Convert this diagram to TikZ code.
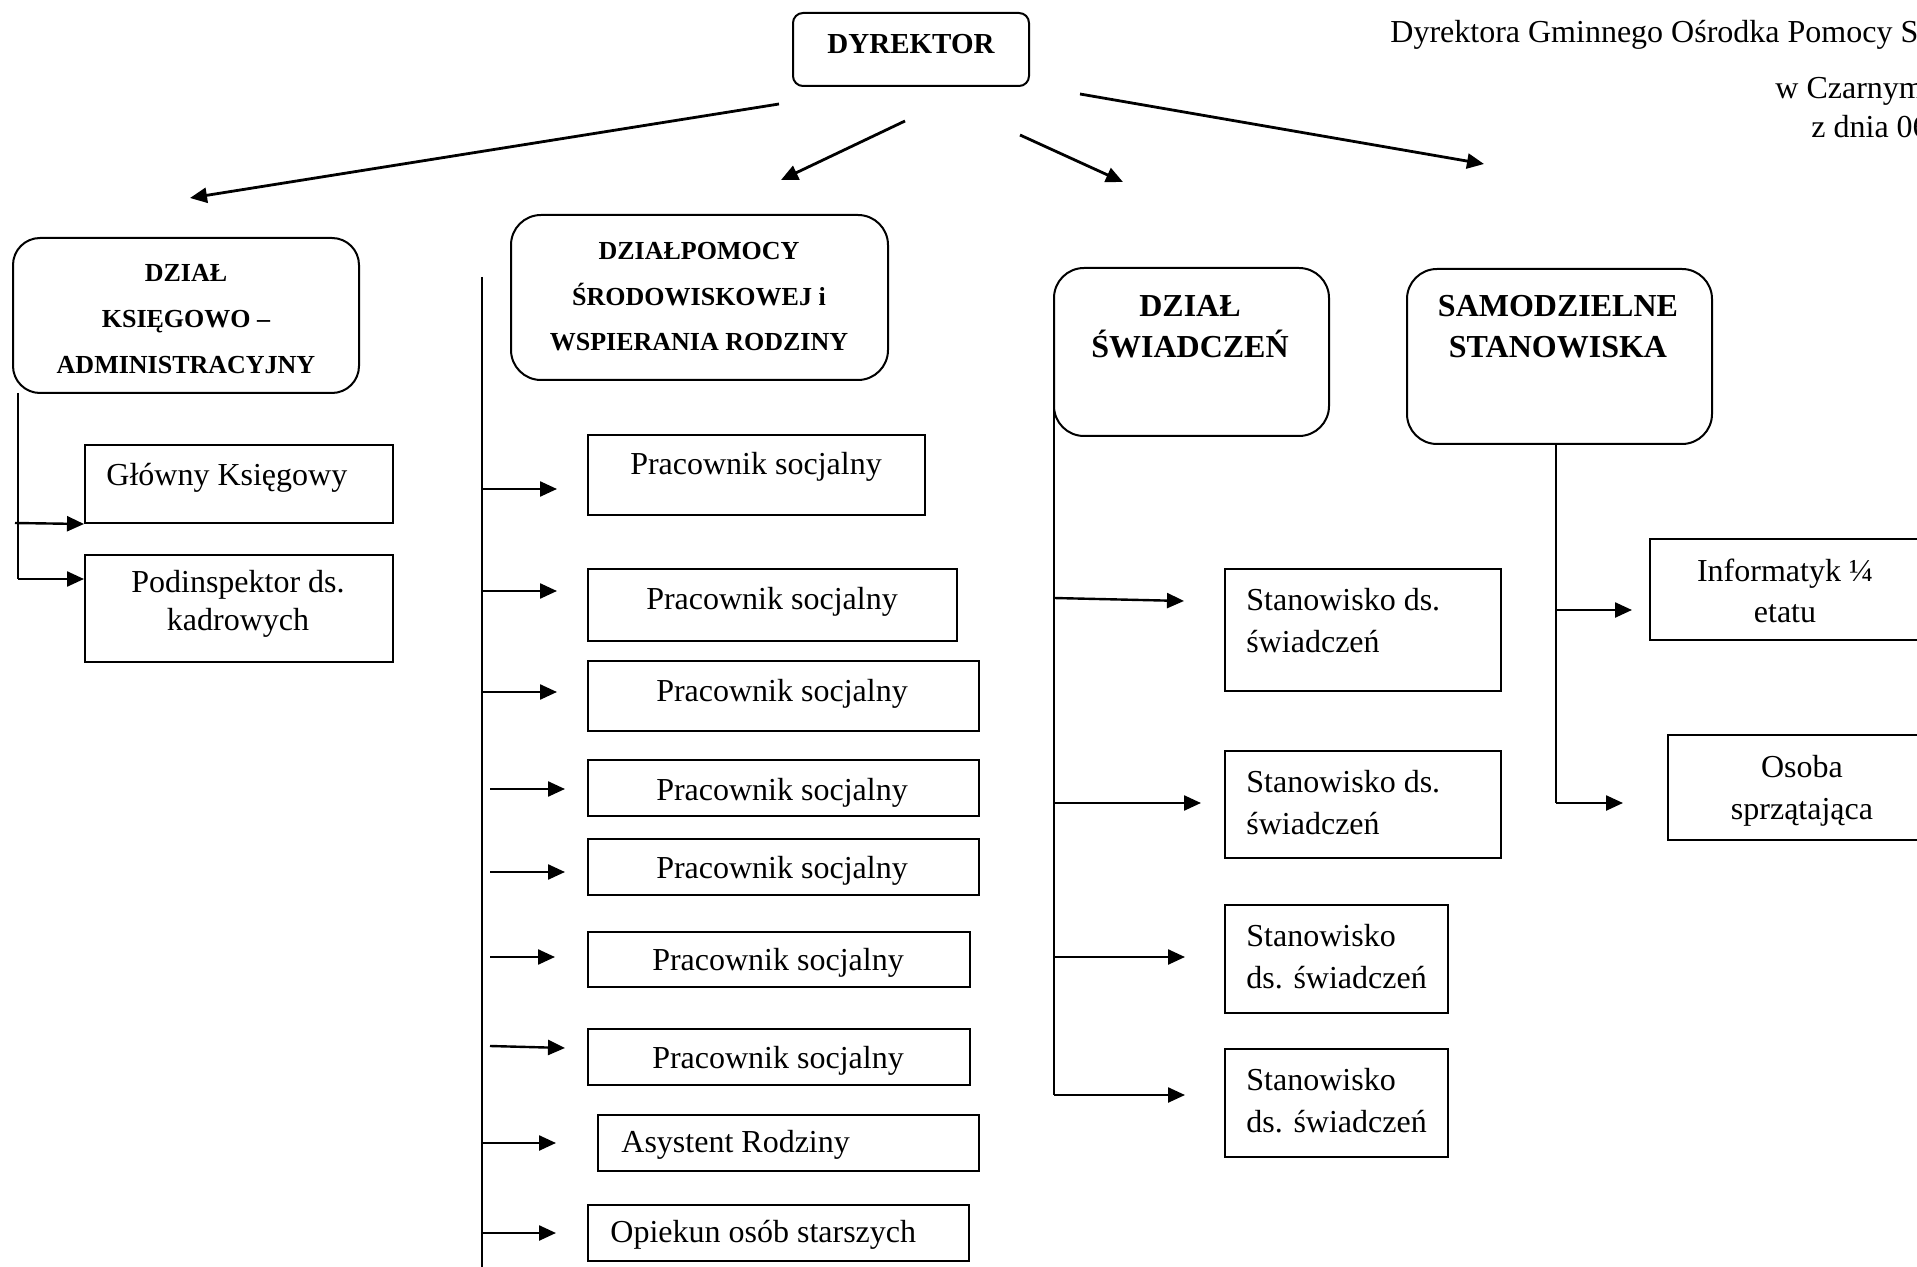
\documentclass[tikz,border=0pt]{standalone}
\usepackage{fontspec}
\setmainfont{Liberation Serif}
\usetikzlibrary{fit,arrows.meta}
\begin{document}
\begin{tikzpicture}[x=0.5pt,y=-0.5pt,
  bx/.style={draw, line width=1pt, inner sep=0pt},
  rbx/.style={bx, rounded corners=15pt},
  arr/.style={line width=1.2pt, -{Triangle[length=8.5pt,width=7.5pt]}},
  darr/.style={arr, line width=1.4pt},
  ln/.style={line width=1pt},
  txt/.style={inner sep=0pt, font=\fontsize{16}{21}\selectfont, align=center},
  ltxt/.style={inner sep=0pt, font=\fontsize{16}{21}\selectfont, align=left, anchor=west},
  btxt/.style={inner sep=0pt, font=\bfseries\fontsize{16}{20.5}\selectfont, align=center},
  sbtxt/.style={inner sep=0pt, font=\bfseries\fontsize{13}{23}\selectfont, align=center}]
\useasboundingbox (0,0) rectangle (1917,1267);
\fill[white] (0,0) rectangle (1917,1267);
\clip (0,0) rectangle (1917,1267);

% header text
\node[txt, anchor=base west] (h1) at (1390,43) {Dyrektora Gminnego Ośrodka Pomocy S};
\node[txt, anchor=base west] (h2) at (1775,99) {w Czarnym};
\node[txt, anchor=base west] (h3) at (1811,138) {z dnia 06};

% director
\node[bx, rounded corners=5pt, fit={(793,13) (1029,86)}] (dy) {};
\node[inner sep=0pt, font=\bfseries\fontsize{14.5}{18}\selectfont] (dyt) at (911,44) {DYREKTOR};

\coordinate (d1a) at (779,104);  \coordinate (d1b) at (190,198);
\coordinate (d2a) at (905,121);  \coordinate (d2b) at (781,180);
\coordinate (d3a) at (1020,135); \coordinate (d3b) at (1123,182);
\coordinate (d4a) at (1080,94);  \coordinate (d4b) at (1484,164);
\draw[darr] (d1a) -- (d1b);
\draw[darr] (d2a) -- (d2b);
\draw[darr] (d3a) -- (d3b);
\draw[darr] (d4a) -- (d4b);

% left department
\node[bx, rounded corners=13.5pt, fit={(13,238) (359,393)}] (ka) {};
\node[sbtxt] (kat) at (186,319) {DZIAŁ\\KSIĘGOWO –\\ADMINISTRACYJNY};
\node[bx, fit={(85,445) (393,523)}] (gk) {};
\node[ltxt] (gkt) at (106,478) {Główny Księgowy};
\node[bx, fit={(85,555) (393,662)}] (pk) {};
\node[txt, font=\fontsize{16}{19}\selectfont] (pkt) at (238,604) {Podinspektor ds.\\kadrowych};
\coordinate (k0) at (18,393);
\coordinate (k1) at (15,523);
\coordinate (k2) at (18,579);
\draw[ln] (k0) -- (k2);
\draw[arr] (k1) -- (gk.south west);
\draw[arr] (k2) -- (k2 -| pk.west);

% middle department
\node[rbx, fit={(511,215) (888,380)}] (pm) {};
\node[sbtxt, font=\bfseries\fontsize{13}{22.75}\selectfont] (pmt) at (699,297) {DZIAŁPOMOCY\\ŚRODOWISKOWEJ i\\WSPIERANIA RODZINY};
\coordinate (m0) at (482,277);
\coordinate (m1) at (482,1267);
\draw[ln] (m0) -- (m1);

\node[bx, fit={(588,435) (925,515)}] (p1) {};
\node[txt] (p1t) at (756,467) {Pracownik socjalny};
\node[bx, fit={(588,569) (957,641)}] (p2) {};
\node[txt] (p2t) at (772,602) {Pracownik socjalny};
\node[bx, fit={(588,661) (979,731)}] (p3) {};
\node[txt] (p3t) at (782,694) {Pracownik socjalny};
\node[bx, fit={(588,760) (979,816)}] (p4) {};
\node[txt] (p4t) at (782,793) {Pracownik socjalny};
\node[bx, fit={(588,839) (979,895)}] (p5) {};
\node[txt] (p5t) at (782,871) {Pracownik socjalny};
\node[bx, fit={(588,932) (970,987)}] (p6) {};
\node[txt] (p6t) at (778,963) {Pracownik socjalny};
\node[bx, fit={(588,1029) (970,1085)}] (p7) {};
\node[txt] (p7t) at (778,1061) {Pracownik socjalny};
\node[bx, fit={(598,1115) (979,1171)}] (p8) {};
\node[ltxt] (p8t) at (621,1145) {Asystent Rodziny};
\node[bx, fit={(588,1205) (969,1261)}] (p9) {};
\node[ltxt] (p9t) at (610,1235) {Opiekun osób starszych};

\coordinate (a1s) at (482,489);  \coordinate (a1e) at (557,489);
\coordinate (a2s) at (482,591);  \coordinate (a2e) at (557,591);
\coordinate (a3s) at (482,692);  \coordinate (a3e) at (557,692);
\coordinate (a4s) at (490,789);  \coordinate (a4e) at (565,789);
\coordinate (a5s) at (490,872);  \coordinate (a5e) at (565,872);
\coordinate (a6s) at (490,957);  \coordinate (a6e) at (555,957);
\coordinate (a7s) at (490,1046); \coordinate (a7e) at (565,1048);
\coordinate (a8s) at (482,1143); \coordinate (a8e) at (556,1143);
\coordinate (a9s) at (482,1233); \coordinate (a9e) at (556,1233);
\foreach \i in {1,...,9} {\draw[arr] (a\i s) -- (a\i e);}

% benefits department
\node[rbx, fit={(1054,268) (1329,436)}] (sw) {};
\node[btxt] (swt) at (1190,327) {DZIAŁ\\ŚWIADCZEŃ};
\coordinate (w0) at (1054,348);
\coordinate (w4) at (1054,1095);
\draw[ln] (w0) -- (w4);

\node[bx, fit={(1225,569) (1501,691)}] (s1) {};
\node[ltxt] (s1t) at (1246,621) {Stanowisko ds.\\świadczeń};
\node[bx, fit={(1225,751) (1501,858)}] (s2) {};
\node[ltxt] (s2t) at (1246,803) {Stanowisko ds.\\świadczeń};
\node[bx, fit={(1225,905) (1448,1013)}] (s3) {};
\node[ltxt] (s3t) at (1246,957) {Stanowisko\\ds. świadczeń};
\node[bx, fit={(1225,1049) (1448,1157)}] (s4) {};
\node[ltxt] (s4t) at (1246,1101) {Stanowisko\\ds. świadczeń};

\coordinate (b1s) at (1054,598);  \coordinate (b1e) at (1184,601);
\coordinate (b2s) at (1054,803);  \coordinate (b2e) at (1201,803);
\coordinate (b3s) at (1054,957);  \coordinate (b3e) at (1185,957);
\coordinate (b4s) at (w4);        \coordinate (b4e) at (1185,1095);
\foreach \i in {1,...,4} {\draw[arr] (b\i s) -- (b\i e);}

% independent posts
\node[rbx, fit={(1407,269) (1712,444)}] (sa) {};
\node[btxt] (sat) at (1558,327) {SAMODZIELNE\\STANOWISKA};
\coordinate (c0) at (1556,444);
\coordinate (c2) at (1556,803);
\draw[ln] (c0) -- (c2);
\node[bx, fit={(1650,539) (1920,640)}] (inf) {};
\node[txt, font=\fontsize{16}{20.5}\selectfont] (inft) at (1785,591) {Informatyk ¼\\etatu};
\node[bx, fit={(1668,735) (1936,840)}] (os) {};
\node[txt] (ost) at (1802,791) {Osoba\\sprzątająca};
\coordinate (c1s) at (1556,610); \coordinate (c1e) at (1632,610);
\coordinate (c2e) at (1623,803);
\draw[arr] (c1s) -- (c1e);
\draw[arr] (c2) -- (c2e);
\end{tikzpicture}
\end{document}
